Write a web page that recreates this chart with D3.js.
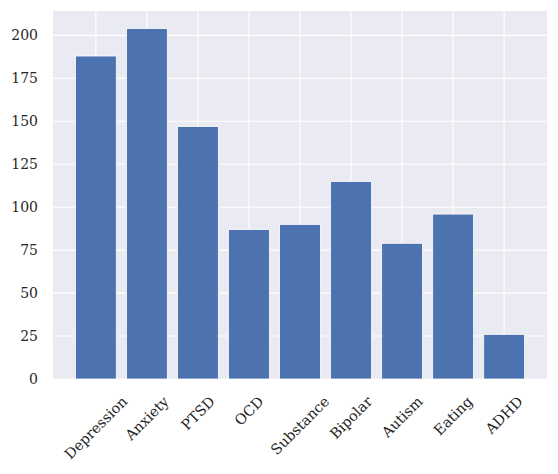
<!DOCTYPE html>
<html><head><meta charset="utf-8">
<script src="https://cdn.jsdelivr.net/npm/d3@7"></script>
<style>
body{margin:0;background:#fff;}
text{font-family:"DejaVu Serif",serif;fill:#262626;}
</style></head>
<body>
<svg id="chart" width="558" height="474"></svg>
<script>
const categories = ["Depression","Anxiety","PTSD","OCD","Substance","Bipolar","Autism","Eating","ADHD"];
const values = [188, 204, 147, 87, 90, 115, 79, 96, 26];
const yTicks = [0, 25, 50, 75, 100, 125, 150, 175, 200];

(function(){
const svg = d3.select("#chart");
const pL = 53, pR = 547, pT = 11, pB = 379;
const n = categories.length;
const barW = 0.8;
const xMin = -barW/2, xMax = (n-1) + barW/2;
const xPad = (xMax - xMin) * 0.05;
const x = d3.scaleLinear().domain([xMin - xPad, xMax + xPad]).range([pL, pR]);
const yMax = d3.max(values) * 1.05;
const y = d3.scaleLinear().domain([0, yMax]).range([pB, pT]);

svg.append("rect").attr("x", pL).attr("y", pT).attr("width", pR-pL).attr("height", pB-pT).attr("fill", "#EAEAF2");

const g = svg.append("g");
g.selectAll("line.hg").data(yTicks).join("line").attr("class","hg")
  .attr("x1", pL).attr("x2", pR)
  .attr("y1", d => y(d)).attr("y2", d => y(d))
  .attr("stroke", "#fff").attr("stroke-width", 1.1);
g.selectAll("line.vg").data(categories).join("line").attr("class","vg")
  .attr("y1", pT).attr("y2", pB)
  .attr("x1", (d,i) => x(i)).attr("x2", (d,i) => x(i))
  .attr("stroke", "#fff").attr("stroke-width", 1.1);

g.selectAll("rect.bar").data(values).join("rect").attr("class","bar")
  .attr("x", (d,i) => x(i - barW/2))
  .attr("width", x(barW) - x(0))
  .attr("y", d => y(d))
  .attr("height", d => y(0) - y(d))
  .attr("fill", "#4C72B0")
  .attr("stroke", "#fff").attr("stroke-width", 0.8);

const yAxis = d3.axisLeft(y).tickValues(yTicks).tickSize(0).tickPadding(15);
const ya = svg.append("g").attr("transform", `translate(${pL},0)`).call(yAxis);
ya.select(".domain").remove();
ya.selectAll("text").style("font-family", '"DejaVu Serif", serif').style("font-size", "14px").attr("fill", "#262626");

const fs = 14.3;
const xl = svg.append("g");
xl.selectAll("text").data(categories).join("text")
  .text(d => d)
  .style("font-size", fs + "px")
  .attr("text-anchor", "middle")
  .attr("dominant-baseline", "central")
  .each(function(d, i) {
    const L = this.getComputedTextLength();
    const h = fs * 1.17;
    const H = (L + h) * Math.SQRT1_2;
    const cx = x(i), cy = pB + 14 + H/2;
    d3.select(this).attr("x", cx).attr("y", cy).attr("transform", `rotate(-45,${cx},${cy})`);
  });
})();
</script>
</body></html>
